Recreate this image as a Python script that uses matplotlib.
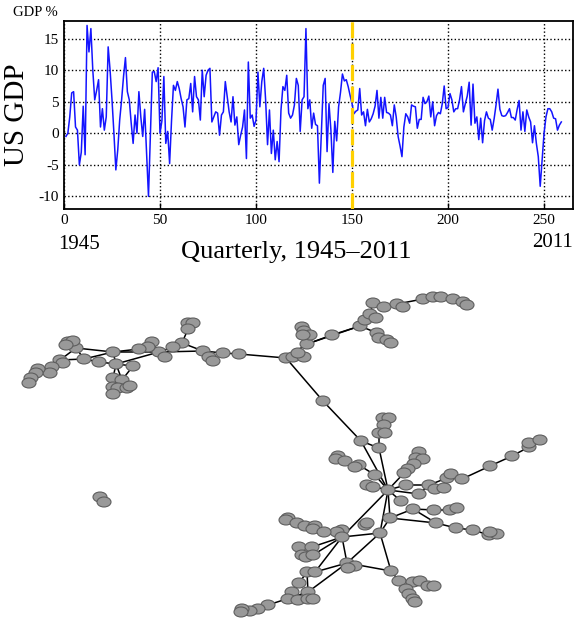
import matplotlib
matplotlib.use("Agg")
import matplotlib.pyplot as plt
from matplotlib.patches import Ellipse
import numpy as np

plt.rcParams['font.family'] = ['Liberation Serif', 'DejaVu Serif']
plt.rcParams['axes.unicode_minus'] = False

# quarterly US GDP growth (%), quarter 1 .. 259
gdp = [-0.5, 0.0, 2.6, 6.4, 6.6, 1.0, 0.5, -5.0, -3.0, 4.3,
       -3.4, 17.1, 12.9, 16.6, 10.0, 5.3, 6.8, 8.5, 1.0, 3.9,
       0.5, 2.6, 13.7, 10.0, 5.3, 0.0, -5.8, -2.6, 2.1, 5.3,
       9.0, 12.0, 6.6, 5.3, 1.6, -1.6, 2.9, 0.0, 6.6, 2.6,
       -0.5, 3.8, -3.0, -10.0, 0.0, 9.7, 9.8, 8.2, 10.4, 0.0,
       2.0, 9.0, -1.6, 0.3, -4.8, 2.0, 7.6, 6.8, 8.2, 7.1,
       5.5, 4.2, 1.0, 5.3, 5.5, 7.9, 3.4, 9.0, 5.8, 5.3,
       2.1, 10.0, 5.8, 9.2, 10.0, 10.3, 1.8, 2.6, 3.4, 3.2,
       -0.3, 2.9, 3.4, 8.2, 5.8, 3.4, 1.8, 5.8, 1.3, 2.6,
       -1.8, -0.3, 1.0, 3.7, -4.0, 11.3, 2.4, 2.9, 1.1, 2.1,
       9.7, 4.2, 8.2, 10.3, 5.3, -1.8, 3.7, -3.2, 0.5, -4.2,
       -1.3, -4.5, 3.7, 7.4, 6.8, 9.2, 3.2, 2.4, 2.9, 4.5,
       8.7, 7.6, 0.3, 5.3, 5.8, 16.6, 3.9, 5.3, 0.8, 3.2,
       1.4, 1.2, -7.9, 0.0, 7.6, 8.7, -2.9, 4.7, 0.5, -6.2,
       1.9, -1.2, 4.2, 6.5, 9.4, 8.3, 8.5, 7.4, 6.0, 4.7,
       3.1, 3.5, 3.7, 7.1, 2.9, 3.4, 1.2, 3.8, 1.8, 2.3,
       3.1, 4.3, 6.8, 2.4, 5.7, 2.4, 5.7, 3.3, 3.2, 2.9,
       1.2, 4.5, 2.6, -0.5, -2.0, -3.7, 1.0, 3.1, 2.6, 1.6,
       4.5, 4.3, 4.2, 0.8, 2.2, 2.2, 5.7, 4.7, 5.0, 5.9,
       2.6, 5.0, 1.2, 2.8, 3.3, 3.1, 4.7, 7.5, 3.9, 4.1,
       6.3, 5.3, 3.4, 3.9, 3.9, 5.3, 7.4, 3.4, 4.7, 5.9,
       8.1, 1.3, 7.8, 1.6, 2.6, -1.0, 2.4, -1.5, 2.0, 3.4,
       2.4, 2.2, 0.5, 2.3, 4.5, 7.0, 3.8, 2.8, 2.7, 2.8,
       3.3, 3.9, 2.5, 2.5, 2.1, 3.8, 5.2, 0.5, 3.4, 0.3,
       3.7, 2.6, 1.8, -1.5, 1.2, -1.6, -3.7, -8.4, -4.2, 0.0,
       2.6, 3.9, 3.9, 3.4, 2.4, 2.3, 0.5, 1.3, 1.8]
quarter = np.arange(1, len(gdp) + 1)
marked_quarter = 150
xticks = [0, 50, 100, 150, 200, 250]
yticks = [-10, -5, 0, 5, 10, 15]

# network layout (node positions)
node_x = [188, 193, 188, 182, 173, 159, 165, 152, 148, 139,
          113, 116, 133, 99, 84, 76, 68, 73, 66, 60,
          63, 52, 50, 38, 36, 31, 29, 113, 122, 113,
          118, 127, 130, 113, 203, 209, 213, 223, 239, 286,
          293, 304, 298, 307, 302, 304, 310, 303, 332, 360,
          365, 370, 376, 373, 384, 397, 403, 423, 433, 441,
          453, 463, 467, 377, 379, 387, 391, 323, 383, 389,
          384, 379, 385, 361, 379, 338, 336, 345, 359, 355,
          375, 367, 373, 388, 419, 416, 423, 414, 408, 404,
          406, 401, 419, 429, 435, 444, 447, 451, 462, 490,
          512, 529, 529, 540, 413, 434, 450, 457, 390, 436,
          456, 473, 489, 497, 490, 380, 365, 367, 342, 337,
          342, 288, 286, 297, 305, 315, 313, 324, 299, 312,
          302, 306, 313, 307, 315, 347, 355, 348, 391, 399,
          413, 420, 406, 428, 434, 409, 413, 415, 299, 292,
          308, 288, 298, 308, 313, 268, 258, 250, 242, 241,
          100, 104]
node_y = [323, 323, 329, 343, 347, 352, 357, 342, 347, 349,
          352, 364, 366, 362, 359, 348, 342, 341, 345, 360,
          363, 367, 373, 369, 373, 378, 383, 378, 380, 387,
          388, 388, 386, 394, 351, 357, 361, 353, 354, 358,
          357, 357, 353, 344, 327, 331, 335, 335, 335, 326,
          320, 314, 318, 303, 307, 304, 307, 299, 297, 297,
          299, 302, 305, 333, 338, 340, 343, 401, 418, 418,
          425, 433, 433, 441, 448, 456, 459, 461, 465, 467,
          475, 485, 487, 490, 452, 458, 459, 464, 469, 473,
          485, 501, 494, 485, 489, 488, 478, 474, 479, 466,
          456, 447, 443, 440, 509, 510, 510, 508, 518, 523,
          528, 530, 535, 534, 532, 533, 525, 523, 530, 532,
          537, 518, 520, 523, 526, 526, 529, 532, 547, 547,
          555, 557, 555, 572, 572, 563, 566, 568, 571, 581,
          582, 581, 589, 586, 586, 594, 599, 602, 583, 592,
          592, 599, 600, 599, 599, 605, 609, 611, 609, 612,
          497, 502]
edges = [(0, 2), (2, 3), (3, 4), (4, 5), (3, 34), (5, 34), (5, 7), (7, 8),
         (8, 9), (5, 10), (9, 10), (5, 11), (10, 15), (10, 14), (14, 15),
         (15, 19), (14, 19), (13, 14), (13, 11), (10, 11), (11, 12),
         (11, 27), (11, 28), (12, 28), (27, 29), (16, 15), (19, 21),
         (34, 35), (34, 37), (37, 38), (38, 39),
         (39, 40), (39, 43), (43, 48), (43, 49), (48, 49), (43, 45), (45, 44),
         (49, 50), (50, 51), (51, 53), (53, 54), (54, 55), (55, 57), (57, 58),
         (58, 60), (60, 61), (49, 63), (63, 64), (39, 67), (67, 73),
         (73, 74), (73, 83), (74, 83), (74, 71), (71, 68), (83, 80), (80, 78),
         (78, 77), (77, 76), (83, 81), (83, 89), (89, 87), (87, 85), (85, 84),
         (83, 90), (90, 93), (93, 96), (96, 98), (98, 99), (99, 100),
         (100, 101), (83, 92), (92, 93), (83, 91), (83, 108), (108, 104),
         (104, 105), (105, 106), (104, 109), (108, 109), (109, 110),
         (110, 111), (111, 112), (83, 120), (83, 115), (115, 108),
         (115, 120), (115, 135), (115, 138), (120, 127), (127, 125),
         (125, 124), (124, 123), (123, 121), (120, 129), (120, 132),
         (120, 134), (120, 135), (135, 134), (135, 150), (135, 138),
         (138, 139), (139, 140), (140, 143), (139, 142), (142, 145),
         (150, 155), (155, 156), (156, 158), (133, 150), (148, 133),
         (149, 148), (160, 161)]

fig = plt.figure(figsize=(5.74, 6.18), dpi=100)

# ---- top: GDP time series
ax = fig.add_axes([0.1115, 0.6618, 0.8865, 0.3042])
ax.plot(quarter, gdp, color='#1414ff', lw=1.1, zorder=3)
ax.axvline(marked_quarter, color='#ffd000', lw=2.3, dashes=(5, 1.7), zorder=4)
ax.set_xlim(0, 265)
ax.set_ylim(-12, 17.8)
ax.set_xticks(xticks)
ax.set_yticks(yticks)
ax.grid(True, color='black', ls=':', lw=1.0)
ax.tick_params(direction='in', length=4, labelsize=11, width=1)
ax.tick_params(axis='y', length=0)
for s in ax.spines.values():
    s.set_linewidth(1.3)
ax.set_ylabel('US GDP', fontsize=21, labelpad=6)

fig.text(0.061, 0.979, 'GDP %', fontsize=10.5, ha='center', va='center')
fig.text(0.138, 0.604, '1945', fontsize=15, ha='center', va='center')
fig.text(0.963, 0.607, '2011', fontsize=15, ha='center', va='center')
fig.text(0.516, 0.592, 'Quarterly, 1945\u20132011', fontsize=19,
         ha='center', va='center')

# ---- bottom: network
ax2 = fig.add_axes([0, 0, 1, 338 / 618])
ax2.set_xlim(0, 574)
ax2.set_ylim(618, 280)
ax2.axis('off')
for a, b in edges:
    ax2.plot([node_x[a], node_x[b]], [node_y[a], node_y[b]],
             color='black', lw=1.1, zorder=1)
for x, y in zip(node_x, node_y):
    ax2.add_patch(Ellipse((x, y), 14, 10, facecolor='#999999',
                          edgecolor='#5e5e5e', lw=0.8, zorder=2))

plt.savefig('out.png', dpi=100)
